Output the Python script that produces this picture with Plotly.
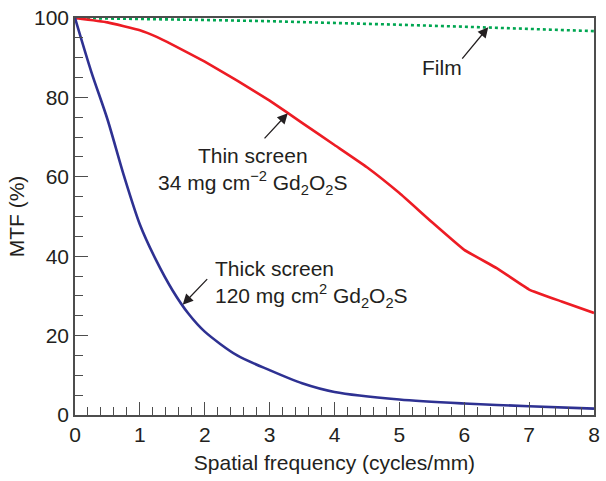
import plotly.graph_objects as go

# Spatial frequency samples (cycles/mm) and MTF values (%)
film_x = [0, 1, 2, 3, 4, 5, 6, 7, 8]
film_y = [100, 99.8, 99.5, 99.2, 98.8, 98.3, 97.8, 97.3, 96.7]

thin_x = [0, 0.5, 1, 1.25, 1.5, 2, 2.5, 3, 3.5, 4, 4.5, 5, 5.5, 6, 6.5, 7, 7.5, 8]
thin_y = [100, 98.9, 96.9, 95.3, 93.3, 89.0, 84.2, 79.2, 73.6, 68.0, 62.4, 55.9, 48.6,
          41.6, 37.0, 31.6, 28.6, 25.7]

thick_x = [0, 0.25, 0.5, 0.75, 1, 1.25, 1.5, 1.75, 2, 2.5, 3, 3.5, 4, 5, 6, 7, 8]
thick_y = [100, 86.5, 74.5, 60.5, 48.0, 39.0, 31.5, 25.5, 21.0, 15.0, 11.3, 8.0,
           5.8, 3.9, 2.9, 2.2, 1.6]

FONT = "Liberation Sans, Arial, Helvetica, sans-serif"
FS = 21
INK = "#231f20"
AXIS = "#4d4d4d"

fig = go.Figure()
fig.add_trace(go.Scatter(x=film_x, y=film_y, mode="lines",
                         line=dict(color="#00a651", width=2.6, dash="dot"),
                         showlegend=False))
fig.add_trace(go.Scatter(x=thin_x, y=thin_y, mode="lines",
                         line=dict(color="#ed1c24", width=2.6, shape="spline", smoothing=0.3),
                         showlegend=False))
fig.add_trace(go.Scatter(x=thick_x, y=thick_y, mode="lines",
                         line=dict(color="#2e3192", width=2.6, shape="spline", smoothing=0.8),
                         showlegend=False))

arrow_style = dict(showarrow=True, arrowhead=2, arrowsize=1.6, arrowwidth=1.3,
                   arrowcolor=INK, axref="x", ayref="y", text="")

# arrows pointing at each curve
fig.add_annotation(x=6.37, y=97.7, ax=5.95, ay=89.4, **arrow_style)
fig.add_annotation(x=3.28, y=76.0, ax=2.90, ay=69.3, **arrow_style)
fig.add_annotation(x=1.66, y=27.8, ax=2.06, ay=34.6, **arrow_style)

label_font = dict(family=FONT, size=FS, color=INK)
fig.add_annotation(x=5.65, y=87.6, text="Film", showarrow=False,
                   xanchor="center", yanchor="middle", font=label_font)
fig.add_annotation(x=2.74, y=61.5,
                   text="Thin screen<br>34 mg cm<sup>\u22122</sup> Gd<sub>2</sub>O<sub>2</sub>S",
                   showarrow=False, xanchor="center", yanchor="middle", align="center",
                   font=label_font)
fig.add_annotation(x=2.12, y=33.0,
                   text="Thick screen<br>120 mg cm<sup>2</sup> Gd<sub>2</sub>O<sub>2</sub>S",
                   showarrow=False, xanchor="left", yanchor="middle", align="left",
                   font=label_font)

fig.update_xaxes(range=[0, 8], dtick=1, tick0=0, ticks="inside", ticklen=13, tickwidth=1.3,
                 tickcolor=AXIS, showline=True, linecolor=AXIS, linewidth=1.6, mirror=True,
                 showgrid=False, zeroline=False,
                 minor=dict(ticks="inside", ticklen=8, dtick=0.2, tickwidth=1.1, tickcolor=AXIS,
                            showgrid=False),
                 tickfont=dict(family=FONT, size=FS, color=INK),
                 title=dict(text="Spatial frequency (cycles/mm)",
                            font=dict(family=FONT, size=FS, color=INK), standoff=10))
fig.update_yaxes(range=[0, 100], dtick=20, tick0=0, ticks="inside", ticklen=13, tickwidth=1.3,
                 tickcolor=AXIS, showline=True, linecolor=AXIS, linewidth=1.6, mirror=True,
                 showgrid=False, zeroline=False,
                 minor=dict(ticks="inside", ticklen=8, dtick=5, tickwidth=1.1, tickcolor=AXIS,
                            showgrid=False),
                 tickfont=dict(family=FONT, size=FS, color=INK),
                 title=dict(text="MTF (%)", font=dict(family=FONT, size=FS, color=INK), standoff=4))

fig.update_layout(width=606, height=481, margin=dict(l=75, r=6, t=17, b=66),
                  plot_bgcolor="white", paper_bgcolor="white")

fig.write_html("out.html")
